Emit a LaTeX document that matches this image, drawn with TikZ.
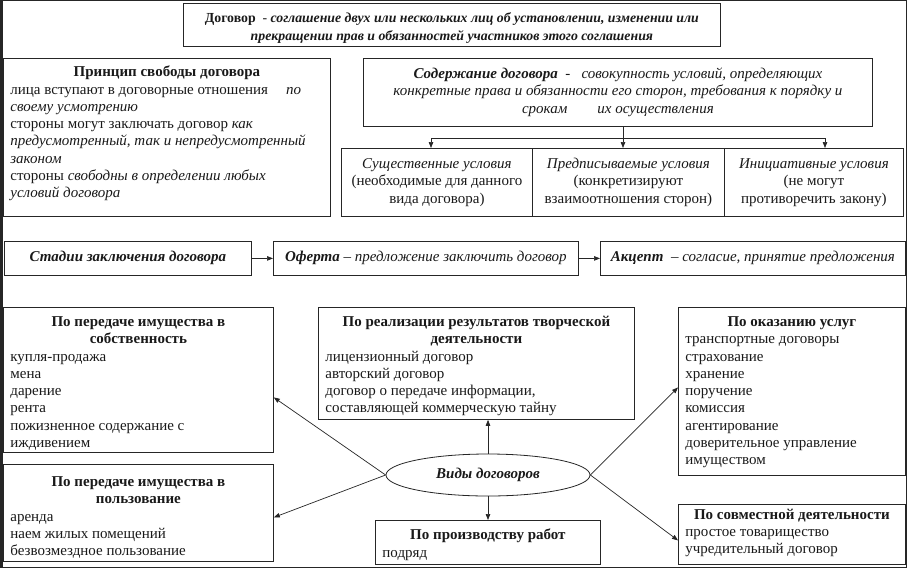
\documentclass[tikz,border=0pt]{standalone}
\usepackage{fontspec}
\setmainfont{Liberation Serif}
\usetikzlibrary{arrows.meta,shapes.geometric}
\newcommand\fs{\fontsize{15}{17.25}\selectfont}
\newcommand\tline[1]{\mbox{\strut#1}\par}
\newcommand\ttl[1]{{\centering\bfseries\mbox{\strut#1}\par}}
\newcommand\boxT[4]{\begin{minipage}[c][#2pt][t]{#1pt}\fs\raggedright\leftskip=7pt\relax\vspace*{#3pt}#4\end{minipage}}
\newcommand\boxC[3]{\begin{minipage}[c][#2pt][c]{#1pt}\fs\centering #3\end{minipage}}
\tikzset{
  bx/.style={draw=black!85, line width=0.8pt, inner sep=0pt, anchor=north west, text=black!90},
  arr/.style={draw=black!85, line width=0.7pt, -{Triangle[length=6pt,width=4.5pt]}},
  ln/.style={draw=black!85, line width=0.7pt},
}
\begin{document}
\begin{tikzpicture}[x=1pt,y=-1pt]
\useasboundingbox (0,0) rectangle (907,568);
\fill[white] (0,0) rectangle (907,568);
\fill[black!85] (0,0) rectangle (2.5,568);
\draw[black!85,line width=0.8pt] (0.4,0.4) rectangle (906.4,567.4);
% top
\node[bx] (dog) at (183,3) {\begin{minipage}[c][43pt][t]{537pt}\fontsize{13.8}{17.25}\selectfont\centering\vspace*{7.4pt}%
\tline{\textbf{Договор}\ \ -\ \textbf{\textit{соглашение двух или нескольких лиц об установлении, изменении или}}}%
\tline{\textbf{\textit{прекращении прав и обязанностей участников этого соглашения}}}\end{minipage}};
\node[bx] (princ) at (3,58) {\boxT{327}{158}{6.4}{%
\ttl{Принцип свободы договора}%
\tline{лица вступают в договорные отношения\hspace{1.2em}\textit{по}}%
\tline{\textit{своему усмотрению}}%
\tline{стороны могут заключать договор \textit{как}}%
\tline{\textit{предусмотренный, так и непредусмотренный}}%
\tline{\textit{законом}}%
\tline{стороны \textit{свободны в определении любых}}%
\tline{\textit{условий договора}}}};
\node[bx] (soder) at (363,58) {\boxC{509}{68}{%
\tline{\textbf{\textit{Содержание договора}}\ \ -\ \ \ \textit{совокупность условий, определяющих}}%
\tline{\textit{конкретные права и обязанности его сторон, требования к порядку и}}%
\tline{\textit{срокам\hspace{2em}их осуществления}}}};
\node[bx] (s1) at (341,148) {\boxC{191}{68}{%
\tline{\textit{Существенные условия}}\tline{(необходимые для данного}\tline{вида договора)}}};
\node[bx] (s2) at (532,148) {\boxC{192}{68}{%
\tline{\textit{Предписываемые условия}}\tline{(конкретизируют}\tline{взаимоотношения сторон)}}};
\node[bx] (s3) at (724,148) {\boxC{179}{68}{%
\tline{\textit{Инициативные условия}}\tline{(не могут}\tline{противоречить закону)}}};
\coordinate (j1) at (431,138);
\coordinate (j2) at (623,138);
\coordinate (j3) at (825,138);
\draw[ln] (j1) -- (j3);
\draw[arr] (j2 |- soder.south) -- (j2 |- s2.north);
\draw[arr] (j1) -- (j1 |- s1.north);
\draw[arr] (j3) -- (j3 |- s3.north);
% middle row
\node[bx] (stad) at (4,241) {\boxC{247}{34}{\tline{\textbf{\textit{Стадии заключения договора}}}}};
\node[bx] (ofer) at (273,241) {\boxC{305}{34}{\tline{\textbf{\textit{Оферта}} – \textit{предложение заключить договор}}}};
\node[bx] (akc) at (600,241) {\boxC{305}{34}{\tline{\textbf{\textit{Акцепт}}\ \ – \textit{согласие, принятие предложения}}}};
\draw[arr] (stad.east) -- (ofer.west);
\draw[arr] (ofer.east) -- (akc.west);
% bottom
\node[bx] (sobs) at (3,307) {\boxT{270}{145}{7.1}{%
\ttl{По передаче имущества в}\ttl{собственность}%
\tline{купля-продажа}\tline{мена}\tline{дарение}\tline{рента}%
\tline{пожизненное содержание с}\tline{иждивением}}};
\node[bx] (tvor) at (318,307) {\boxT{316}{112}{7.1}{%
\ttl{По реализации результатов творческой}\ttl{деятельности}%
\tline{лицензионный договор}\tline{авторский договор}%
\tline{договор о передаче информации,}\tline{составляющей коммерческую тайну}}};
\node[bx] (okaz) at (678,307) {\boxT{227}{168}{7.1}{%
\ttl{По оказанию услуг}%
\tline{транспортные договоры}\tline{страхование}\tline{хранение}\tline{поручение}%
\tline{комиссия}\tline{агентирование}\tline{доверительное управление}\tline{имуществом}}};
\node[bx] (polz) at (3,464) {\boxT{270}{97}{10.1}{%
\ttl{По передаче имущества в}\ttl{пользование}%
\tline{аренда}\tline{наем жилых помещений}\tline{безвозмездное пользование}}};
\node[bx] (proizv) at (375,520) {\boxT{225}{44}{7.4}{%
\ttl{По производству работ}\tline{подряд}}};
\node[bx] (sovm) at (678,504) {\boxT{227}{60}{2.9}{%
\ttl{По совместной деятельности}\tline{простое товарищество}\tline{учредительный договор}}};
\node[draw=black!85, line width=0.8pt, ellipse, minimum width=204pt, minimum height=42pt, inner sep=0pt, text=black!90] (vid) at (488,475) {\fs\bfseries\itshape Виды договоров};
\draw[arr] (vid.west) -- ([yshift=-17.5pt]sobs.east);
\draw[arr] (vid.west) -- ([yshift=-4.5pt]polz.east);
\draw[arr] (vid.north) -- (vid.north |- tvor.south);
\draw[arr] (vid.south) -- (vid.south |- proizv.north);
\draw[arr] (vid.east) -- ([yshift=4pt]okaz.west);
\draw[arr] (vid.east) -- ([yshift=-6pt]sovm.west);
\end{tikzpicture}
\end{document}
